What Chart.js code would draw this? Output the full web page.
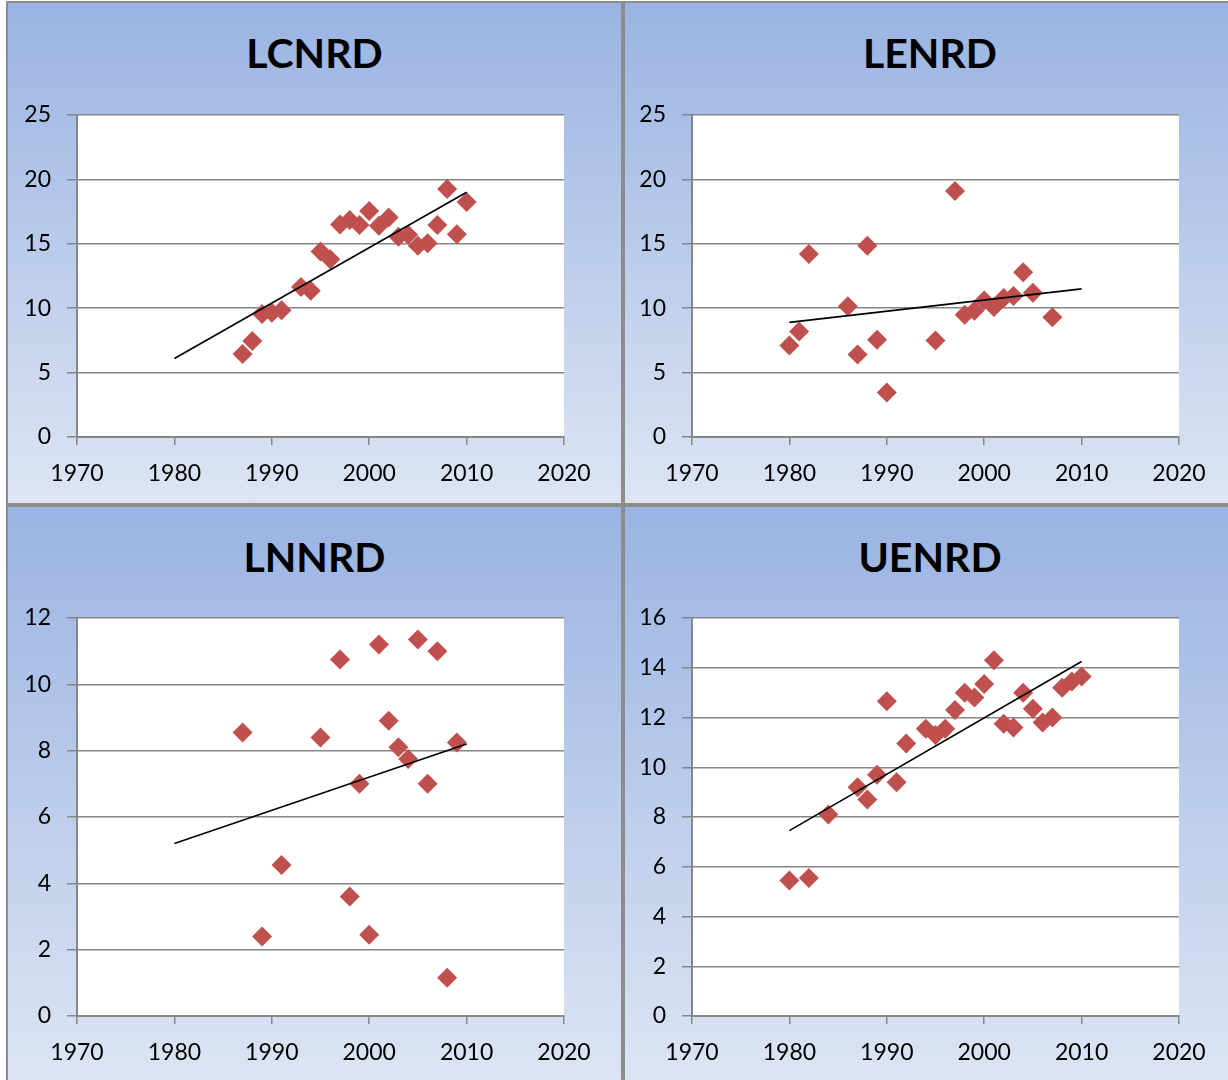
<!DOCTYPE html>
<html>
<head>
<meta charset="utf-8">
<script src="https://cdn.jsdelivr.net/npm/chart.js@4.4.1/dist/chart.umd.min.js"></script>
<style>
html,body{margin:0;padding:0;background:#ffffff;}
body{width:1228px;height:1080px;overflow:hidden;position:relative;font-family:Lato,"Open Sans",sans-serif;}
.panel{position:absolute;box-sizing:border-box;border:2px solid #8c8c8c;background:linear-gradient(to bottom,#99b3e2 0%,#dde5f4 100%);overflow:hidden;}
.title{position:absolute;left:0;right:0;text-align:center;font-weight:bold;font-size:41px;line-height:50px;color:#000;font-family:Lato,"Open Sans",sans-serif;}
canvas{position:absolute;left:0;top:0;}
</style>
</head>
<body>
<script>
// ---- data ----
const xTickLabels = [1970, 1980, 1990, 2000, 2010, 2020];

const titles = ["LCNRD", "LENRD", "LNNRD", "UENRD"];

const lcnrdYears = [1987,1988,1989,1990,1991,1993,1994,1995,1996,1997,1998,1999,2000,2001,2002,2003,2004,2005,2006,2007,2008,2009,2010];
const lcnrdValues = [6.45,7.45,9.55,9.65,9.85,11.65,11.35,14.4,13.8,16.5,16.85,16.45,17.55,16.4,17.05,15.55,15.7,14.85,15.05,16.45,19.25,15.75,18.25];
const lcnrdTrendYears = [1980, 2010];
const lcnrdTrendValues = [6.1, 19.0];
const lcnrdYTicks = [0, 5, 10, 15, 20, 25];

const lenrdYears = [1980,1981,1982,1986,1987,1988,1989,1990,1995,1997,1998,1999,2000,2001,2002,2003,2004,2005,2007];
const lenrdValues = [7.1,8.2,14.2,10.15,6.4,14.85,7.55,3.45,7.5,19.1,9.5,9.8,10.6,10.1,10.8,10.95,12.8,11.2,9.3];
const lenrdTrendYears = [1980, 2010];
const lenrdTrendValues = [8.9, 11.5];
const lenrdYTicks = [0, 5, 10, 15, 20, 25];

const lnnrdYears = [1987,1989,1991,1995,1997,1998,1999,2000,2001,2002,2003,2004,2005,2006,2007,2008,2009];
const lnnrdValues = [8.55,2.4,4.55,8.4,10.75,3.6,7.0,2.45,11.2,8.9,8.1,7.75,11.35,7.0,11.0,1.15,8.25];
const lnnrdTrendYears = [1980, 2010];
const lnnrdTrendValues = [5.2, 8.2];
const lnnrdYTicks = [0, 2, 4, 6, 8, 10, 12];

const uenrdYears = [1980,1982,1984,1987,1988,1989,1990,1991,1992,1994,1995,1996,1997,1998,1999,2000,2001,2002,2003,2004,2005,2006,2007,2008,2009,2010];
const uenrdValues = [5.45,5.55,8.1,9.2,8.7,9.7,12.65,9.4,10.95,11.55,11.3,11.55,12.3,13.0,12.8,13.35,14.3,11.75,11.6,13.0,12.35,11.8,12.0,13.2,13.45,13.65];
const uenrdTrendYears = [1980, 2010];
const uenrdTrendValues = [7.45, 14.25];
const uenrdYTicks = [0, 2, 4, 6, 8, 10, 12, 14, 16];

// ---- layout ----
const panels = [
  {title: titles[0], years: lcnrdYears, values: lcnrdValues, ty: lcnrdTrendYears, tv: lcnrdTrendValues, yTicks: lcnrdYTicks,
   box: {l: 6, t: 1, w: 617, h: 504}, plot: {l: 77, t: 115, r: 564, b: 437}},
  {title: titles[1], years: lenrdYears, values: lenrdValues, ty: lenrdTrendYears, tv: lenrdTrendValues, yTicks: lenrdYTicks,
   box: {l: 623, t: 1, w: 614, h: 504}, plot: {l: 692, t: 115, r: 1179, b: 437}},
  {title: titles[2], years: lnnrdYears, values: lnnrdValues, ty: lnnrdTrendYears, tv: lnnrdTrendValues, yTicks: lnnrdYTicks,
   box: {l: 6, t: 505, w: 617, h: 580}, plot: {l: 77, t: 618, r: 564, b: 1016}},
  {title: titles[3], years: uenrdYears, values: uenrdValues, ty: uenrdTrendYears, tv: uenrdTrendValues, yTicks: uenrdYTicks,
   box: {l: 623, t: 505, w: 614, h: 580}, plot: {l: 692, t: 618, r: 1179, b: 1016}}
];

const BORDER = 2;
const GRID = '#868686';
const TICK_FONT = {family: 'Lato, "Open Sans", sans-serif', size: 23};

panels.forEach(p => {
  const div = document.createElement('div');
  div.className = 'panel';
  div.style.left = p.box.l + 'px';
  div.style.top = p.box.t + 'px';
  div.style.width = p.box.w + 'px';
  div.style.height = p.box.h + 'px';
  document.body.appendChild(div);

  const ox = p.box.l + BORDER, oy = p.box.t + BORDER;
  const cw = p.box.w - 2 * BORDER, ch = p.box.h - 2 * BORDER;

  const t = document.createElement('div');
  t.className = 'title';
  t.style.top = '25px';
  t.textContent = p.title;
  div.appendChild(t);

  const canvas = document.createElement('canvas');
  canvas.width = cw; canvas.height = ch;
  canvas.style.width = cw + 'px'; canvas.style.height = ch + 'px';
  div.appendChild(canvas);

  const yAxisW = p.plot.l - ox;
  const xAxisH = (oy + ch) - p.plot.b;
  const padTop = p.plot.t - oy;
  const padRight = (ox + cw) - p.plot.r;

  const pts = p.years.map((y, i) => ({x: y, y: p.values[i]}));
  const trend = p.ty.map((y, i) => ({x: y, y: p.tv[i]}));

  new Chart(canvas, {
    type: 'scatter',
    data: {
      datasets: [
        {type: 'line', data: trend, borderColor: '#000000', borderWidth: 1.6, pointRadius: 0, fill: false, tension: 0},
        {data: pts, pointStyle: 'rectRot', pointRadius: 10, pointHoverRadius: 10,
         backgroundColor: '#C0504D', borderColor: '#C0504D', borderWidth: 0}
      ]
    },
    options: {
      responsive: false,
      animation: false,
      devicePixelRatio: 1,
      layout: {padding: {top: padTop, right: padRight, left: 0, bottom: 0}},
      plugins: {legend: {display: false}, tooltip: {enabled: false}, title: {display: false}},
      scales: {
        x: {
          type: 'linear',
          min: xTickLabels[0], max: xTickLabels[xTickLabels.length - 1],
          afterBuildTicks: s => { s.ticks = xTickLabels.map(v => ({value: v})); },
          afterFit: s => { s.height = xAxisH; },
          ticks: {callback: v => String(v), color: '#000', font: TICK_FONT, padding: 15, maxRotation: 0, autoSkip: false},
          grid: {drawOnChartArea: false, drawTicks: true, tickLength: 8, color: GRID, lineWidth: 1.5},
          border: {display: true, color: GRID, width: 2}
        },
        y: {
          type: 'linear',
          min: p.yTicks[0], max: p.yTicks[p.yTicks.length - 1],
          afterBuildTicks: s => { s.ticks = p.yTicks.map(v => ({value: v})); },
          afterFit: s => { s.width = yAxisW; },
          ticks: {callback: v => String(v), color: '#000', font: TICK_FONT, padding: 16, autoSkip: false},
          grid: {drawOnChartArea: true, drawTicks: true, tickLength: 10, color: GRID, lineWidth: 1.5},
          border: {display: true, color: GRID, width: 2}
        }
      }
    },
    plugins: [{
      id: 'plotBg',
      beforeDraw(chart) {
        const a = chart.chartArea, c = chart.ctx;
        c.save(); c.fillStyle = '#ffffff';
        c.fillRect(a.left, a.top, a.right - a.left, a.bottom - a.top);
        c.restore();
      }
    }]
  });
});
</script>
</body>
</html>
